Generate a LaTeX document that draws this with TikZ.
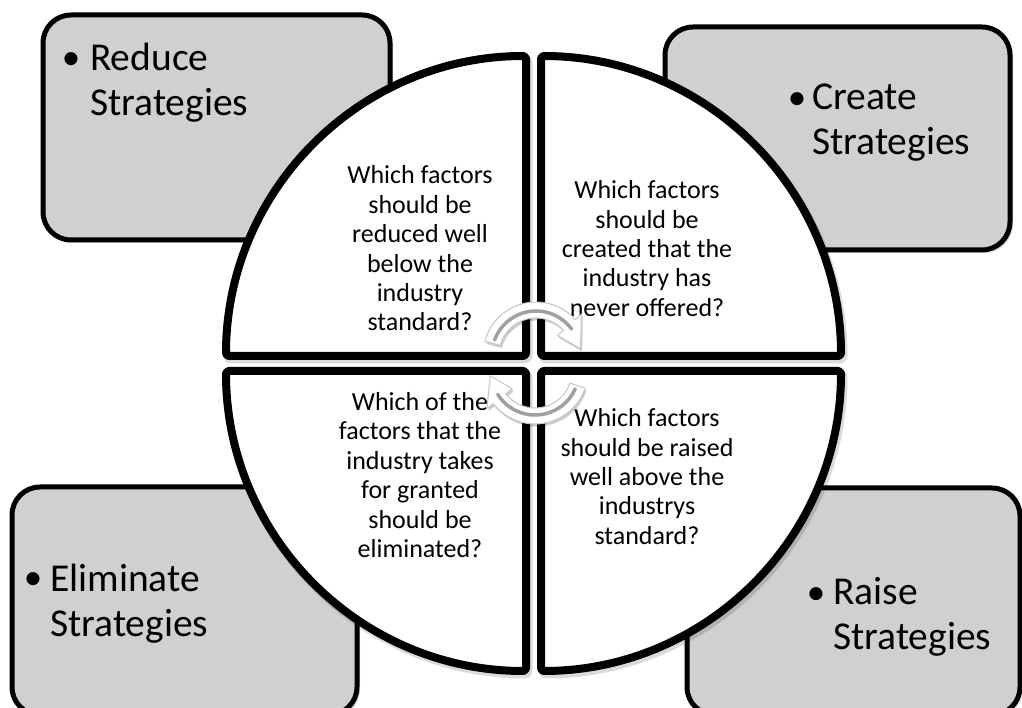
\documentclass[tikz,border=0pt]{standalone}
\usepackage{fontspec}
\setmainfont{Carlito}
\definecolor{boxgray}{RGB}{208,208,208}
\definecolor{arrowgray}{RGB}{160,160,160}
\tikzset{
  stratbox/.style={draw=black, line width=5pt, fill=boxgray, rounded corners=28pt, inner sep=0pt},
  boxshadow/.style={fill=black, opacity=0.13, rounded corners=28pt},
  quarter/.style={draw=black, line width=8pt, fill=white, rounded corners=3pt, line join=round},
  quartershadow/.style={draw=black, line width=9pt, opacity=0.14, rounded corners=3pt, line join=round},
  question/.style={align=center, font=\fontsize{26}{29.4}\selectfont, inner sep=0pt},
  boxtext/.style={align=left, font=\fontsize{39.5}{45}\selectfont, anchor=west, inner sep=0pt},
  bulletmark/.style={font=\fontsize{37}{45}\selectfont, inner sep=0pt},
  cyclearrow/.style={fill=white, draw=gray!45, line width=1pt, line join=round},
  cycleshadow/.style={fill=black, opacity=0.2},
  cycleline/.style={draw=arrowgray, line width=3.5pt, line cap=round},
}
\begin{document}
\begin{tikzpicture}[x=1pt,y=1pt]
\useasboundingbox (0,0) rectangle (1022,707);
\clip (0,0) rectangle (1022,707);

% box shadows
\fill[boxshadow] (45,464) rectangle (393,690);
\fill[boxshadow] (667,454) rectangle (1013,678);
\fill[boxshadow] (14,-11) rectangle (360,218);
\fill[boxshadow] (689,-11) rectangle (1023,217);

% strategy boxes
\node[stratbox, minimum width=347pt, minimum height=225pt] (reduce) at (216.5,579.5) {};
\node[stratbox, minimum width=345pt, minimum height=223pt] (create) at (837.5,568.5) {};
\node[stratbox, minimum width=345pt, minimum height=228pt] (eliminate) at (184.5,106) {};
\node[stratbox, minimum width=333pt, minimum height=227pt] (raise) at (853.5,105.5) {};

% box labels
\node[bulletmark] (reduceb) at (71,646) {•};
\node[boxtext] (reducet) at (90,624) {Reduce\\Strategies};
\node[bulletmark] (createb) at (797,606) {•};
\node[boxtext] (createt) at (812,584.5) {Create\\Strategies};
\node[bulletmark] (eliminateb) at (33,126) {•};
\node[boxtext] (eliminatet) at (50,103.5) {Eliminate\\Strategies};
\node[bulletmark] (raiseb) at (816,111) {•};
\node[boxtext] (raiset) at (833,90) {Raise\\Strategies};

% quarter shadows
\begin{scope}[xshift=2pt, yshift=-3pt]
\draw[quartershadow] (526,351) -- (226,351) arc[start angle=180, end angle=90, radius=300] -- cycle;
\draw[quartershadow] (541,351) -- (541,651) arc[start angle=90, end angle=0, radius=300] -- cycle;
\draw[quartershadow] (526,336) -- (226,336) arc[start angle=180, end angle=270, radius=300] -- cycle;
\draw[quartershadow] (541,336) -- (841,336) arc[start angle=0, end angle=-90, radius=300] -- cycle;
\end{scope}

% quarters
\draw[quarter] (526,351) -- (226,351) arc[start angle=180, end angle=90, radius=300] -- cycle;
\draw[quarter] (541,351) -- (541,651) arc[start angle=90, end angle=0, radius=300] -- cycle;
\draw[quarter] (526,336) -- (226,336) arc[start angle=180, end angle=270, radius=300] -- cycle;
\draw[quarter] (541,336) -- (841,336) arc[start angle=0, end angle=-90, radius=300] -- cycle;

% questions
\node[question] (qreduce) at (420,458.5) {Which factors\\should be\\reduced well\\below the\\industry\\standard?};
\node[question] (qcreate) at (647,458.5) {Which factors\\should be\\created that the\\industry has\\never offered?};
\node[question] (qeliminate) at (420,232) {Which of the\\factors that the\\industry takes\\for granted\\should be\\eliminated?};
\node[question] (qraise) at (647,230.5) {Which factors\\should be raised\\well above the\\industrys\\standard?};

% cycle arrows
\begin{scope}[shift={(536,352)}]
  \fill[cycleshadow, xshift=1.5pt, yshift=-2.5pt] (165:53pt) arc[start angle=165, end angle=42, radius=53pt] -- (42:61pt) -- (8:45pt) -- (42:29pt) -- (42:37pt) arc[start angle=42, end angle=165, radius=37pt] -- cycle;
  \draw[cyclearrow] (165:53pt) arc[start angle=165, end angle=42, radius=53pt] -- (42:61pt) -- (8:45pt) -- (42:29pt) -- (42:37pt) arc[start angle=42, end angle=165, radius=37pt] -- cycle;
  \draw[cycleline] (160:44pt) arc[start angle=160, end angle=36, radius=44pt];
\end{scope}
\begin{scope}[shift={(535,336)}]
  \fill[cycleshadow, xshift=1.5pt, yshift=-2.5pt] (-19:53pt) arc[start angle=-19, end angle=-142, radius=53pt] -- (-142:61pt) -- (-174:45pt) -- (-142:29pt) -- (-142:37pt) arc[start angle=-142, end angle=-19, radius=37pt] -- cycle;
  \draw[cyclearrow] (-19:53pt) arc[start angle=-19, end angle=-142, radius=53pt] -- (-142:61pt) -- (-174:45pt) -- (-142:29pt) -- (-142:37pt) arc[start angle=-142, end angle=-19, radius=37pt] -- cycle;
  \draw[cycleline] (-24:44pt) arc[start angle=-24, end angle=-148, radius=44pt];
\end{scope}
\end{tikzpicture}
\end{document}
